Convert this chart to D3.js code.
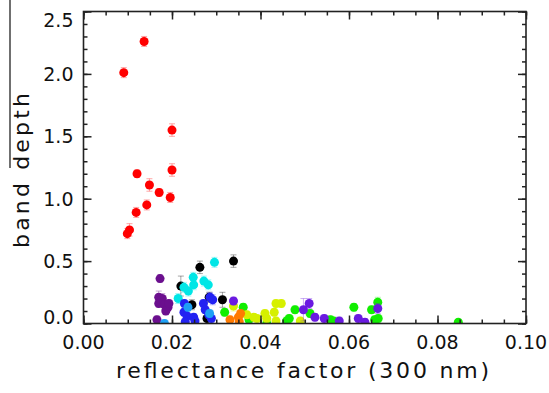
<!DOCTYPE html>
<html>
<head>
<meta charset="utf-8">
<script src="https://cdn.jsdelivr.net/npm/d3@7"></script>
<style>
  body { margin: 0; background: #fff; }
  svg { display: block; }
  text { font-family: "DejaVu Sans", sans-serif; fill: #111; }
</style>
</head>
<body>
<div id="chart"></div>
<script>
// data: [reflectance factor, band depth, error]
const redPts = [
  [0.0091, 2.01, 0.04], [0.0137, 2.26, 0.04], [0.0200, 1.55, 0.05], [0.0121, 1.20, 0.03],
  [0.0200, 1.23, 0.05], [0.0149, 1.11, 0.05], [0.0171, 1.05, 0.03], [0.0196, 1.01, 0.04],
  [0.0143, 0.95, 0.04], [0.0119, 0.89, 0.04], [0.0104, 0.75, 0.05], [0.0099, 0.72, 0.04]
];
const purplePts = [
  [0.0173, 0.36, 0.03], [0.0170, 0.21, 0.05], [0.0178, 0.20, 0.04], [0.0170, 0.16, 0.03],
  [0.0183, 0.15, 0.04], [0.0191, 0.13, 0.03], [0.0186, 0.10, 0.03], [0.0193, 0.16, 0.03],
  [0.0166, 0.03, 0.03]
];
const blackPts = [
  [0.0263, 0.45, 0.05], [0.0339, 0.50, 0.05], [0.0220, 0.30, 0.08], [0.0245, 0.15, 0.04],
  [0.0284, 0.21, 0.04], [0.0314, 0.19, 0.06], [0.0279, 0.04, 0.04]
];
const cyanPts = [
  [0.0296, 0.49, 0.04], [0.0248, 0.37, 0.04], [0.0249, 0.31, 0.04], [0.0227, 0.29, 0.04],
  [0.0237, 0.26, 0.04], [0.0272, 0.34, 0.04], [0.0282, 0.31, 0.04], [0.0214, 0.20, 0.04]
];
const bluePts = [
  [0.0228, 0.16, 0.03], [0.0227, 0.09, 0.03], [0.0234, 0.06, 0.03], [0.0249, 0.05, 0.03],
  [0.0230, 0.015, 0.03], [0.0271, 0.16, 0.03], [0.0286, 0.21, 0.04], [0.0292, 0.19, 0.04],
  [0.0275, 0.11, 0.03], [0.0283, 0.07, 0.03], [0.0289, 0.04, 0.03], [0.0252, 0.02, 0.03]
];
const skyPts = [
  [0.0183, 0.00, 0.03], [0.0236, 0.13, 0.03], [0.0285, 0.08, 0.03]
];
const greenPts = [
  [0.0319, 0.09, 0.03], [0.0361, 0.13, 0.03], [0.0374, 0.03, 0.03], [0.0414, 0.00, 0.03],
  [0.0459, 0.02, 0.03], [0.0465, 0.04, 0.03], [0.0478, 0.11, 0.03], [0.0512, 0.08, 0.03],
  [0.0558, 0.03, 0.03], [0.0565, 0.02, 0.03], [0.0611, 0.13, 0.03], [0.0651, 0.11, 0.03],
  [0.0665, 0.17, 0.04], [0.0658, 0.03, 0.03], [0.0666, 0.04, 0.03], [0.0847, 0.01, 0.02]
];
const yellowPts = [
  [0.0339, 0.14, 0.04], [0.0369, 0.07, 0.03], [0.0385, 0.05, 0.03], [0.0392, 0.04, 0.03],
  [0.0410, 0.08, 0.03], [0.0414, 0.04, 0.03], [0.0431, 0.09, 0.03], [0.0435, 0.16, 0.03],
  [0.0447, 0.16, 0.03], [0.0435, 0.02, 0.03], [0.0490, 0.02, 0.03]
];
const orangePts = [
  [0.0331, 0.03, 0.03], [0.0350, 0.05, 0.03], [0.0355, 0.08, 0.03], [0.0352, 0.015, 0.03]
];
const violetPts = [
  [0.0339, 0.18, 0.03], [0.0497, 0.11, 0.09], [0.0510, 0.16, 0.04], [0.0523, 0.05, 0.03],
  [0.0544, 0.04, 0.03], [0.0578, 0.02, 0.03], [0.0621, 0.04, 0.03], [0.0636, 0.01, 0.03],
  [0.0665, 0.12, 0.04]
];

const groups = [
  { pts: redPts, color: '#ff0000' },
  { pts: purplePts, color: '#6b0f8e' },
  { pts: blackPts, color: '#000000' },
  { pts: cyanPts, color: '#00e6e6' },
  { pts: bluePts, color: '#2222f2' },
  { pts: skyPts, color: '#1ea0f5' },
  { pts: greenPts, color: '#11ee00' },
  { pts: yellowPts, color: '#d6f000' },
  { pts: orangePts, color: '#ff7a00' },
  { pts: violetPts, color: '#6a1ae0' }
];

const xTicks = [0, 0.02, 0.04, 0.06, 0.08, 0.10];
const yTicks = [0, 0.5, 1.0, 1.5, 2.0, 2.5];

const width = 549, height = 393;
const margin = { left: 83.5, right: 23, top: 11.5, bottom: 69.5 };

const svg = d3.select('#chart').append('svg')
  .attr('width', width)
  .attr('height', height);

const x = d3.scaleLinear().domain([0, 0.1]).range([margin.left, width - margin.right]);
const y = d3.scaleLinear().domain([0, 2.5]).range([height - margin.bottom, margin.top]);

svg.append('clipPath').attr('id', 'plotclip')
  .append('rect')
  .attr('x', x(0)).attr('y', y(2.5))
  .attr('width', x(0.1) - x(0)).attr('height', y(0) - y(2.5));

// points + error bars
const plot = svg.append('g').attr('clip-path', 'url(#plotclip)');
groups.forEach(grp => {
  const g = plot.append('g');
  const eb = g.selectAll('g.err').data(grp.pts).enter().append('g')
    .attr('stroke', grp.color)
    .attr('stroke-opacity', 0.35)
    .attr('stroke-width', 1);
  eb.append('line')
    .attr('x1', d => x(d[0])).attr('x2', d => x(d[0]))
    .attr('y1', d => y(d[1] - d[2])).attr('y2', d => y(d[1] + d[2]));
  eb.append('line')
    .attr('x1', d => x(d[0]) - 3).attr('x2', d => x(d[0]) + 3)
    .attr('y1', d => y(d[1] + d[2])).attr('y2', d => y(d[1] + d[2]));
  eb.append('line')
    .attr('x1', d => x(d[0]) - 3).attr('x2', d => x(d[0]) + 3)
    .attr('y1', d => y(d[1] - d[2])).attr('y2', d => y(d[1] - d[2]));
  g.selectAll('circle').data(grp.pts).enter().append('circle')
    .attr('cx', d => x(d[0]))
    .attr('cy', d => y(d[1]))
    .attr('r', 4.5)
    .attr('fill', grp.color);
});

// axes, ticks inward on all four sides
const axisColor = '#222';
function styleAxis(g) {
  g.select('.domain').remove();
  g.selectAll('.tick line').attr('stroke', axisColor).attr('stroke-width', 1.5);
  g.selectAll('.tick text').remove();
}
const xMinor = d3.range(0, 0.1001, 0.005);
const yMinor = d3.range(0, 2.5001, 0.1);

[[d3.axisTop, height - margin.bottom], [d3.axisBottom, margin.top]].forEach(([ax, ty]) => {
  svg.append('g').attr('transform', `translate(0,${ty})`)
    .call(ax(x).tickValues(xMinor).tickSize(4)).call(styleAxis);
  svg.append('g').attr('transform', `translate(0,${ty})`)
    .call(ax(x).tickValues(xTicks).tickSize(8)).call(styleAxis);
});
[[d3.axisRight, margin.left], [d3.axisLeft, width - margin.right]].forEach(([ax, tx]) => {
  svg.append('g').attr('transform', `translate(${tx},0)`)
    .call(ax(y).tickValues(yMinor).tickSize(4)).call(styleAxis);
  svg.append('g').attr('transform', `translate(${tx},0)`)
    .call(ax(y).tickValues(yTicks).tickSize(8)).call(styleAxis);
});

svg.append('rect')
  .attr('x', x(0)).attr('y', y(2.5))
  .attr('width', x(0.1) - x(0)).attr('height', y(0) - y(2.5))
  .attr('fill', 'none').attr('stroke', axisColor).attr('stroke-width', 1.6);

// tick labels
svg.selectAll('text.xl').data(xTicks).enter().append('text')
  .attr('x', d => x(d)).attr('y', 349)
  .attr('text-anchor', 'middle')
  .style('font-size', '19px')
  .text(d => d.toFixed(2));

const yShift = v => v === 2.5 ? 8.5 : (v === 0 ? -6.5 : 0);
svg.selectAll('text.yl').data(yTicks).enter().append('text')
  .attr('x', 73.5).attr('y', d => y(d) + yShift(d))
  .attr('dy', '0.36em')
  .attr('text-anchor', 'end')
  .style('font-size', '19px')
  .text(d => d.toFixed(1));

// axis titles
svg.append('text')
  .attr('x', 302.5).attr('y', 378)
  .attr('text-anchor', 'middle')
  .attr('textLength', 373).attr('lengthAdjust', 'spacing')
  .style('font-size', '22px')
  .text('reflectance factor (300 nm)');

svg.append('text')
  .attr('transform', 'translate(28.5,170.5) rotate(-90)')
  .attr('text-anchor', 'middle')
  .attr('textLength', 155).attr('lengthAdjust', 'spacing')
  .style('font-size', '22px')
  .text('band depth');

// stray rule along the left edge of the figure
svg.append('line')
  .attr('x1', 10).attr('x2', 10).attr('y1', 0).attr('y2', 168)
  .attr('stroke', '#222').attr('stroke-width', 1.3);
</script>
</body>
</html>
